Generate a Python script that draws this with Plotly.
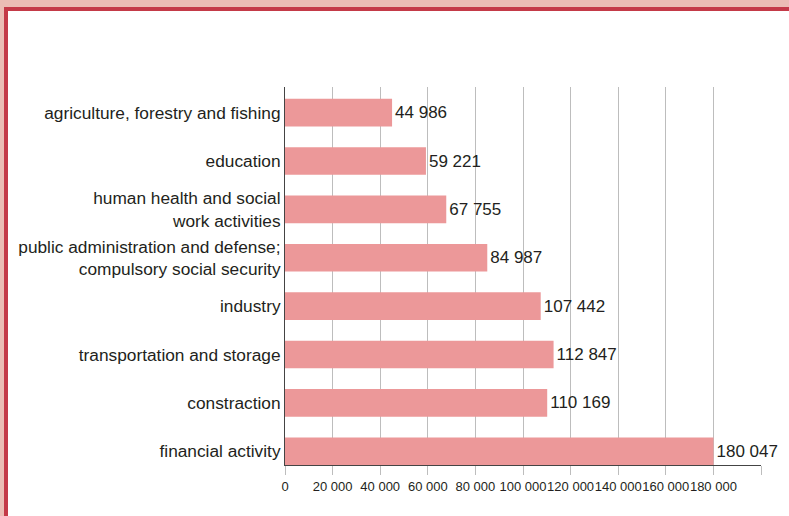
import plotly.graph_objects as go

categories = [
    "agriculture, forestry and fishing",
    "education",
    "human health and social<br>work activities",
    "public administration and defense;<br>compulsory social security",
    "industry",
    "transportation and storage",
    "constraction",
    "financial activity",
]
values = [44986, 59221, 67755, 84987, 107442, 112847, 110169, 180047]
tick_values = [0, 20000, 40000, 60000, 80000, 100000, 120000, 140000, 160000, 180000, 200000]
tick_labels = ["0", "20 000", "40 000", "60 000", "80 000", "100 000",
               "120 000", "140 000", "160 000", "180 000", ""]

W, H = 789, 516
ML, MR, MT, MB = 285, 28, 87, 51
PW, PH = W - ML - MR, H - MT - MB

def px(x):
    return (x - ML) / PW

def py(y):
    return 1 - (y - MT) / PH

FONT = "Liberation Sans, Arial, sans-serif"
TXT = "#231f20"
PINK = "#ebbdb5"
RED = "#c43a48"

def fmt(v):
    return f"{v:,}".replace(",", " ")

# bottom-to-top order for the category axis
cats = categories[::-1]
vals = values[::-1]

fig = go.Figure(go.Bar(
    y=cats, x=vals, orientation="h",
    marker=dict(color="#ec9899", line=dict(width=0)),
    width=0.57,
    text=[fmt(v) for v in vals],
    textposition="outside",
    textfont=dict(family=FONT, size=17, color=TXT),
    cliponaxis=False,
    hoverinfo="skip",
))

shapes = [
    dict(type="rect", xref="paper", yref="paper", x0=px(0), x1=px(W), y0=py(0), y1=py(7),
         fillcolor=PINK, line=dict(width=0), layer="below"),
    dict(type="rect", xref="paper", yref="paper", x0=px(0), x1=px(4), y0=py(0), y1=py(H),
         fillcolor=PINK, line=dict(width=0), layer="below"),
    dict(type="rect", xref="paper", yref="paper", x0=px(4), x1=px(W), y0=py(7), y1=py(11),
         fillcolor=RED, line=dict(width=0), layer="below"),
    dict(type="rect", xref="paper", yref="paper", x0=px(4), x1=px(8), y0=py(7), y1=py(H),
         fillcolor=RED, line=dict(width=0), layer="below"),
]

fig.update_layout(
    width=W, height=H,
    margin=dict(l=ML, r=MR, t=MT, b=MB, pad=0),
    paper_bgcolor="white", plot_bgcolor="white",
    showlegend=False,
    font=dict(family=FONT, color=TXT),
    shapes=shapes,
    xaxis=dict(
        range=[0, 200000], tickvals=tick_values, ticktext=tick_labels,
        tickangle=0,
        showgrid=True, gridcolor="#bdbdbd", gridwidth=1,
        showline=True, linecolor="#444444", linewidth=1,
        ticks="outside", ticklen=9, tickcolor="#bdbdbd",
        tickfont=dict(family=FONT, size=13, color=TXT),
        zeroline=False, fixedrange=True,
    ),
    yaxis=dict(
        range=[-0.285, 7.53],
        showline=True, linecolor="#444444", linewidth=1,
        showgrid=False, zeroline=False, ticks="",
        tickfont=dict(family=FONT, size=17.3, color=TXT),
        ticklabelstandoff=0, fixedrange=True,
    ),
)

fig.write_html(
    "out.html",
    config={"displayModeBar": False},
    post_script="document.body.style.margin='0';document.body.style.overflow='hidden';",
)
